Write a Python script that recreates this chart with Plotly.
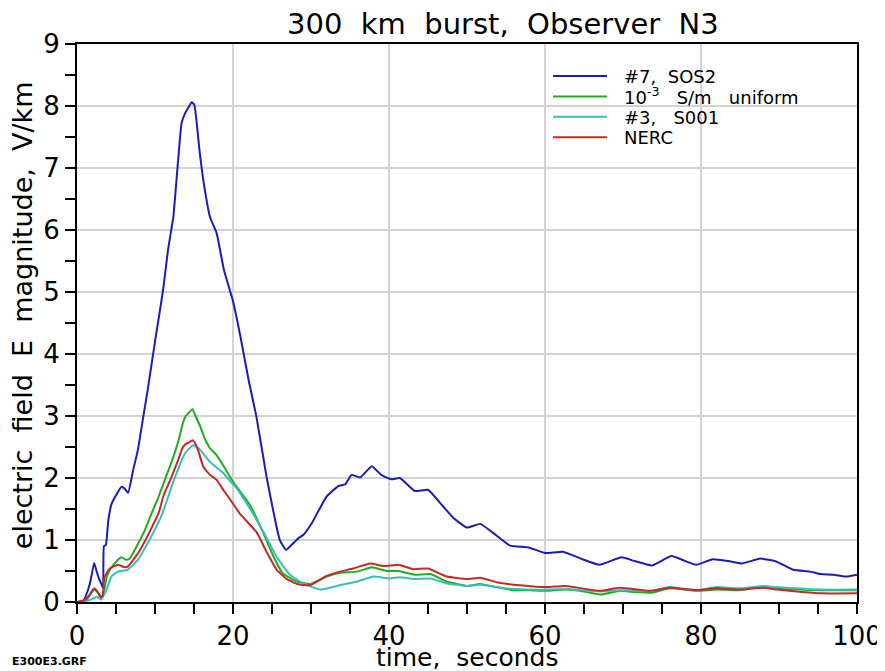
import plotly.graph_objects as go

# ---- data ----
t_sos2 = [0, 0.8, 1.4, 1.75, 2.2, 2.5, 2.8, 3.2, 3.35, 3.45, 3.7, 4.0, 4.4, 5.0, 5.7, 6.1, 6.55, 7.2, 7.8, 8.5,
          9.1, 10.0, 11.0, 11.67, 12.35, 13.0, 13.4, 13.85, 14.3, 14.7, 15.04, 15.7, 16.2, 17.05, 17.9, 18.85,
          20.0, 21.0, 22.0, 23.0, 24.3, 25.4, 26.0, 26.8, 27.5, 28.4, 29.0, 30.1, 31.0, 32.0, 33.5, 34.4, 35.2,
          36.3, 37.8, 39.0, 40.3, 41.4, 43.3, 45.0, 46.8, 48.3, 50.0, 51.7, 53.4, 55.5, 57.9, 60.0, 62.3, 64.8,
          67.0, 69.8, 71.5, 73.7, 76.2, 78.0, 79.4, 81.5, 83.5, 85.2, 87.6, 89.7, 91.8, 94.0, 95.3, 97.0, 98.7, 100]
e_sos2 = [0, 0.02, 0.19, 0.35, 0.63, 0.5, 0.38, 0.27, 0.22, 0.9, 0.92, 1.3, 1.57, 1.72, 1.86, 1.83, 1.76, 2.13, 2.45, 2.99,
          3.45, 4.2, 5.0, 5.68, 6.21, 7.18, 7.72, 7.88, 7.98, 8.06, 8.02, 7.29, 6.8, 6.21, 5.95, 5.35,
          4.85, 4.25, 3.58, 2.99, 2.02, 1.32, 1.0, 0.84, 0.92, 1.03, 1.08, 1.27, 1.48, 1.70, 1.87, 1.90, 2.05,
          2.01, 2.19, 2.05, 1.98, 2.0, 1.79, 1.81, 1.56, 1.35, 1.20, 1.26, 1.11, 0.91, 0.88, 0.79, 0.81, 0.69,
          0.60, 0.72, 0.66, 0.59, 0.74, 0.66, 0.60, 0.69, 0.66, 0.62, 0.70, 0.65, 0.52, 0.49, 0.45, 0.44, 0.41, 0.44]

t_unif = [0, 1.0, 1.5, 2.2, 2.7, 3.2, 3.5, 3.76, 4.2, 4.8, 5.7, 6.3, 6.75, 7.4, 8.7, 9.4, 10.4, 11.5, 12.3, 13.0,
          13.5, 13.85, 14.3, 14.8, 15.2, 15.8, 16.4, 17.05, 17.9, 19.0, 20.0, 21.0, 22.2, 23.9, 25.2, 26.4, 28.2,
          29.9, 32.0, 33.7, 35.9, 37.8, 39.7, 41.2, 43.3, 45.3, 47.4, 50.0, 51.7, 53.8, 56.0, 58.0, 60.2, 62.6,
          65.0, 67.2, 69.6, 71.5, 73.7, 76.0, 79.4, 82.0, 84.9, 88.0, 90.0, 92.5, 95.3, 100]
e_unif = [0, 0.02, 0.08, 0.2, 0.15, 0.08, 0.2, 0.38, 0.52, 0.62, 0.72, 0.68, 0.70, 0.84, 1.16, 1.38, 1.68, 2.05, 2.32, 2.6,
          2.85, 2.98, 3.05, 3.11, 3.0, 2.83, 2.63, 2.48, 2.37, 2.15, 1.94, 1.77, 1.56, 1.11, 0.73, 0.46, 0.33,
          0.29, 0.41, 0.47, 0.49, 0.56, 0.50, 0.50, 0.44, 0.45, 0.33, 0.26, 0.29, 0.24, 0.19, 0.19, 0.18, 0.20,
          0.17, 0.12, 0.18, 0.16, 0.15, 0.22, 0.18, 0.20, 0.19, 0.25, 0.22, 0.20, 0.19, 0.19]

t_s001 = [0, 1.0, 2.0, 2.5, 3.1, 3.4, 3.76, 4.4, 5.26, 6.5, 7.8, 9.5, 10.86, 12.35, 13.85, 14.9, 15.6, 17.05, 18.75,
          19.6, 20.5, 22.2, 23.9, 25.6, 27.3, 29.0, 31.2, 33.7, 35.9, 38.0, 40.1, 41.4, 43.3, 45.3, 47.4, 50.0,
          51.7, 53.8, 56.0, 60.2, 62.6, 67.0, 69.6, 73.5, 76.0, 79.4, 82.0, 84.9, 88.0, 89.7, 95.3, 100]
e_s001 = [0, 0.01, 0.05, 0.08, 0.04, 0.1, 0.19, 0.41, 0.49, 0.52, 0.68, 1.05, 1.40, 1.94, 2.40, 2.53, 2.48, 2.26, 2.08,
          1.95, 1.83, 1.5, 1.13, 0.73, 0.44, 0.30, 0.20, 0.27, 0.33, 0.41, 0.38, 0.40, 0.37, 0.38, 0.30, 0.26,
          0.28, 0.24, 0.21, 0.20, 0.21, 0.17, 0.19, 0.18, 0.24, 0.19, 0.24, 0.22, 0.26, 0.24, 0.20, 0.20]

t_nerc = [0, 1.0, 1.5, 2.2, 2.6, 3.0, 3.3, 3.45, 3.6, 4.2, 5.26, 6.1, 6.5, 7.8, 8.7, 9.5, 10.5, 11.1, 12.0, 13.0,
          13.5, 13.85, 14.3, 14.8, 15.2, 15.6, 16.2, 17.05, 17.9, 18.8, 19.6, 20.9, 23.0, 24.3, 25.6, 26.9, 28.2,
          29.9, 32.0, 33.7, 35.4, 37.6, 39.3, 41.2, 43.1, 45.0, 47.4, 50.0, 51.7, 53.8, 56.8, 60.2, 62.6, 67.0,
          69.6, 73.5, 76.0, 79.4, 82.0, 84.9, 88.0, 89.7, 92.3, 95.3, 100]
e_nerc = [0, 0.03, 0.1, 0.22, 0.17, 0.08, 0.1, 0.35, 0.42, 0.54, 0.60, 0.56, 0.57, 0.78, 0.98, 1.18, 1.45, 1.72, 1.98, 2.3,
          2.48, 2.54, 2.57, 2.61, 2.55, 2.42, 2.18, 2.05, 1.97, 1.8, 1.66, 1.42, 1.13, 0.81, 0.52, 0.37, 0.29,
          0.27, 0.42, 0.49, 0.54, 0.62, 0.58, 0.60, 0.53, 0.54, 0.41, 0.37, 0.39, 0.32, 0.27, 0.24, 0.26, 0.18,
          0.23, 0.18, 0.23, 0.19, 0.22, 0.20, 0.23, 0.20, 0.17, 0.14, 0.14]

NB = "\u00a0"
names = ["#7," + NB * 2 + "SOS2",
         "10<sup>-3</sup>" + NB * 3 + "S/m" + NB * 3 + "uniform",
         "#3," + NB * 3 + "S001",
         "NERC"]
colors = ["#1c1cb8", "#1fae1f", "#3cbdbd", "#c42a2a"]
series = [(t_sos2, e_sos2), (t_unif, e_unif), (t_s001, e_s001), (t_nerc, e_nerc)]

FONT = "DejaVu Sans"

fig = go.Figure()
for (tt, ee), nm, col in zip(series, names, colors):
    fig.add_trace(go.Scatter(x=tt, y=ee, mode="lines", name=nm, showlegend=False,
                             line=dict(color=col, width=2, shape="spline", smoothing=0.4)))

axis_common = dict(showline=True, linecolor="black", linewidth=2, mirror=True,
                   ticks="outside", ticklen=10, tickwidth=2, tickcolor="black",
                   showgrid=True, gridcolor="#d3d3d3", gridwidth=2, zeroline=False, automargin=False,
                   tickfont=dict(family=FONT, size=26, color="black"))

fig.update_xaxes(range=[0, 100], dtick=20, tick0=0,
                 minor=dict(dtick=5, ticks="outside", ticklen=10, tickwidth=2, tickcolor="black", showgrid=False),
                 **axis_common)
fig.update_yaxes(range=[0, 9], dtick=1, tick0=0,
                 minor=dict(dtick=0.5, ticks="outside", ticklen=10, tickwidth=2, tickcolor="black", showgrid=False),
                 **axis_common)

# legend drawn as sample lines + labels (compact row spacing like the reference)
leg_x0, leg_x1, leg_tx = 0.6103, 0.6795, 0.6987
leg_y0, leg_dy = 0.9427, 0.0366
shapes = []
annotations = []
for i, (nm, col) in enumerate(zip(names, colors)):
    yy = leg_y0 - i * leg_dy
    shapes.append(dict(type="line", xref="paper", yref="paper", x0=leg_x0, x1=leg_x1, y0=yy, y1=yy,
                       line=dict(color=col, width=2)))
    annotations.append(dict(text=nm, xref="paper", yref="paper", x=leg_tx, y=yy, xanchor="left",
                            yanchor="middle", showarrow=False, height=20,
                            font=dict(family=FONT, size=18, color="black")))

annotations += [
    dict(text=NB.join(["300", "", "km", "", "burst,", "", "Observer", "", "N3"]), xref="paper", yref="paper",
         x=0.546, y=1.036, xanchor="center", yanchor="middle", showarrow=False, height=30,
         font=dict(family=FONT, size=29, color="black")),
    dict(text=NB.join(["electric", "", "field", "", "E", "", "magnitude,", "", "V/km"]), xref="paper", yref="paper",
         x=-0.0705, y=0.514, xanchor="center", yanchor="middle", textangle=-90, showarrow=False,
         font=dict(family=FONT, size=27, color="black")),
    dict(text="time," + NB * 2 + "seconds", xref="paper", yref="paper",
         x=0.5, y=-0.0986, xanchor="center", yanchor="middle", showarrow=False, height=26,
         font=dict(family=FONT, size=25, color="black")),
    dict(text="<b>E300E3.GRF</b>", xref="paper", yref="paper",
         x=-0.0859, y=-0.1075, xanchor="left", yanchor="middle", showarrow=False,
         font=dict(family=FONT, size=11, color="black")),
]

# the page body adds an 8px offset, so the figure is sized/margined to land the plot area like the reference
fig.update_layout(
    width=877, height=663,
    margin=dict(l=69, r=28, t=36, b=69, autoexpand=False),
    paper_bgcolor="white", plot_bgcolor="white",
    showlegend=False,
    shapes=shapes,
    annotations=annotations,
)

fig.write_html("out.html")
